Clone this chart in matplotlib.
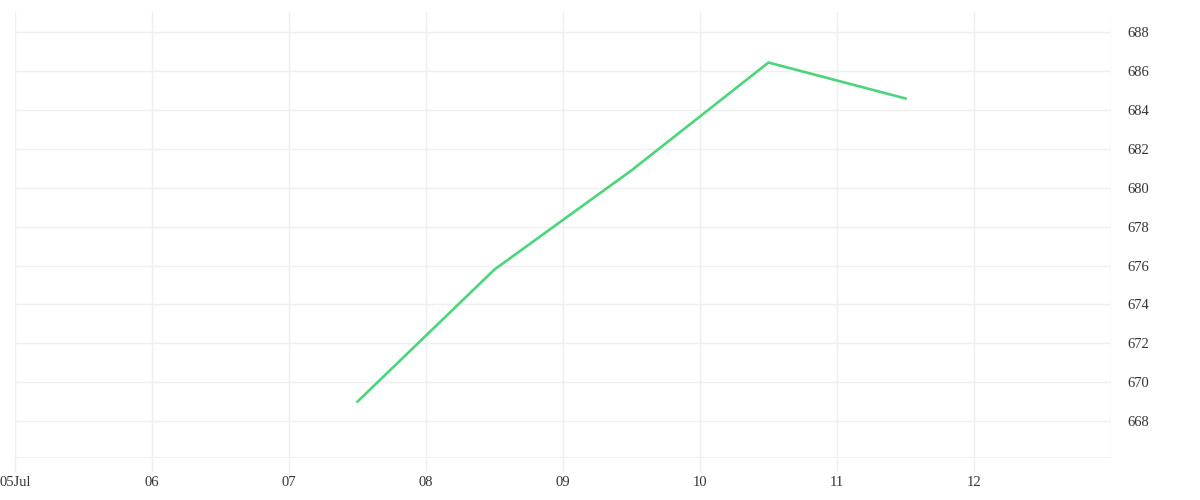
import matplotlib
matplotlib.use('Agg')
import matplotlib.pyplot as plt
import pandas as pd

# values
times = ['2023-07-07 12:00', '2023-07-08 12:00', '2023-07-09 12:00',
         '2023-07-10 12:00', '2023-07-11 12:00']
values = [669.0, 675.8, 680.9, 686.45, 684.6]

tick_days = ['2023-07-05', '2023-07-06', '2023-07-07', '2023-07-08',
             '2023-07-09', '2023-07-10', '2023-07-11', '2023-07-12']
tick_labels = ['05Jul', '06', '07', '08', '09', '10', '11', '12']
y_ticks = [668, 670, 672, 674, 676, 678, 680, 682, 684, 686, 688]

plt.rcParams['font.family'] = ['Liberation Serif', 'DejaVu Serif']
grid_col = '#efefef'

fig = plt.figure(figsize=(12, 5), dpi=100)
ax = fig.add_axes([0.0125, 0.084, 0.9133, 0.892])

x = pd.to_datetime(times)
ax.plot(x, values, color='#4cd57a', linewidth=1.9)

ax.set_xlim(pd.Timestamp('2023-07-05'), pd.Timestamp('2023-07-13'))
ax.set_ylim(666.1, 689.05)

ax.set_xticks(pd.to_datetime(tick_days))
ax.set_xticklabels(tick_labels)
ax.set_yticks(y_ticks)
ax.set_yticklabels([str(v) for v in y_ticks])

# vertical grid at day boundaries plus the right edge
for d in pd.to_datetime(tick_days + ['2023-07-13']):
    ax.axvline(d, color=grid_col, linewidth=1, zorder=0)
for v in y_ticks:
    ax.axhline(v, color=grid_col, linewidth=1, zorder=0)
ax.axhline(666.1, color=grid_col, linewidth=1.5, zorder=0)

for s in ax.spines.values():
    s.set_visible(False)

ax.yaxis.tick_right()
ax.tick_params(axis='y', length=0, pad=12, labelsize=10.5, colors='#333333')
ax.tick_params(axis='x', length=10, width=1, color=grid_col, pad=3,
               labelsize=10.5, labelcolor='#333333')

fig.savefig('out.png', dpi=100, facecolor='white')
